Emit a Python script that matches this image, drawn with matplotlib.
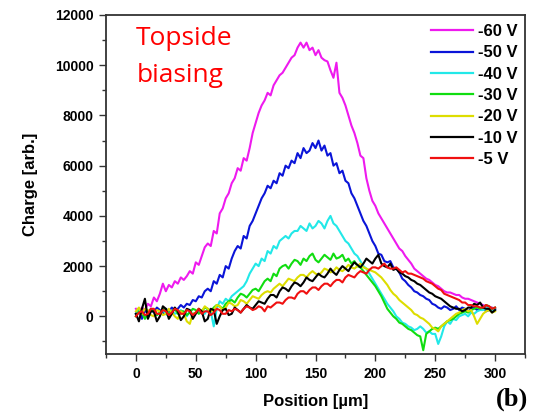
import numpy as np
import matplotlib
matplotlib.use("Agg")
import matplotlib.pyplot as plt
from matplotlib.ticker import MultipleLocator

plt.rcParams['font.family'] = ['Liberation Sans', 'DejaVu Sans']
plt.rcParams['font.weight'] = 'bold'

position = np.arange(0, 300.01, 2.5)

labels = ["-60 V", "-50 V", "-40 V", "-30 V", "-20 V", "-10 V", "-5 V"]
colors = ["#EE1AEE", "#0A14D8", "#22E8E8", "#10DD10", "#DDDD00", "#000000", "#F01010"]

v60 = [300, 150, 350, 250, 500, 400, 750, 600, 900, 1300, 1000, 1250, 1150, 1400, 1300, 1550,
       1450, 1600, 1800, 1700, 2150, 2050, 2400, 2750, 2900, 2800, 3400, 3300, 4100, 4300, 4700,
       4900, 5300, 5500, 5900, 5800, 6300, 6200, 6700, 7300, 7700, 8100, 8400, 8600, 8900, 8800,
       9200, 9400, 9600, 9700, 9900, 10100, 10300, 10400, 10700, 10900, 10700, 10900, 10600,
       10700, 10400, 10600, 10300, 10200, 10150, 9800, 9500, 10100, 8900, 8700, 8400, 8000, 7600,
       7300, 6900, 6400, 6300, 5500, 5000, 4600, 4400, 4100, 3900, 3700, 3500, 3300, 3100, 2900,
       2700, 2600, 2400, 2250, 2100, 1900, 1800, 1700, 1600, 1500, 1450, 1350, 1250, 1200, 1100,
       1000, 950, 950, 900, 850, 850, 750, 700, 700, 650, 600, 550, 500, 450, 400, 380, 350, 300]
v50 = [100, 300, -100, 250, 100, 300, 150, 350, 250, 100, 300, 200, 350, 250, 300, 450, 350,
       500, 450, 650, 600, 800, 750, 1000, 1100, 1000, 1400, 1300, 1650, 1550, 2000, 1900, 2300,
       2600, 2800, 2700, 3200, 3100, 3600, 3800, 4100, 4400, 4700, 4900, 5200, 5100, 5400, 5300,
       5700, 5600, 6000, 5900, 6200, 6100, 6500, 6300, 6700, 6500, 6600, 6900, 6700, 7000, 6600,
       6800, 6400, 6500, 6000, 6100, 5700, 5800, 5400, 5300, 4900, 4700, 4400, 4100, 3800, 3600,
       3300, 3000, 2800, 2500, 2450, 2200, 2150, 2200, 1950, 1900, 1750, 1500, 1400, 1250, 1150,
       1000, 950, 850, 800, 700, 650, 500, 450, 350, 300, 400, 350, 250, 300, 400, 250, 350, 300,
       200, 300, 350, 250, 300, 350, 200, 250, 300, 250]
v40 = [100, 250, 150, 0, 50, 200, 200, 50, 150, 250, 100, 0, 200, 100, 150, 250, 100, 0, 200,
       100, 150, 250, 250, 100, 300, 200, -400, 300, 600, 500, 700, 600, 800, 900, 1000, 1100,
       1200, 1400, 1700, 1900, 2100, 2000, 2300, 2200, 2600, 2500, 2800, 2700, 3000, 3100, 3200,
       3100, 3300, 3400, 3400, 3600, 3500, 3400, 3700, 3500, 3600, 3800, 3700, 3500, 3800, 4000,
       3700, 3600, 3400, 3200, 3000, 2900, 2700, 2500, 2400, 2200, 2000, 1900, 1700, 1500, 1300,
       1100, 900, 700, 500, 350, 200, 0, -100, -250, -300, -400, -450, -550, -500, -400, -500,
       -650, -600, -700, -700, -1100, -800, -400, -200, -300, -100, -150, 0, 50, 100, 0, 150,
       100, 200, 250, 250, 300, 350, 250, 300]
v30 = [0, 200, 150, -100, 100, 250, 200, 50, 150, 300, 250, 100, 200, 300, 100, 200, 200, 50,
       150, 300, 250, 100, 200, 350, 300, 200, 350, 450, 400, 300, 500, 600, 650, 550, 750, 900,
       850, 750, 900, 1050, 1100, 1000, 1200, 1400, 1500, 1400, 1700, 1600, 1900, 2000, 2050,
       1900, 2100, 2250, 2200, 2050, 2300, 2200, 2400, 2500, 2250, 2150, 2300, 2450, 2350, 2250,
       2500, 2300, 2350, 2450, 2200, 2300, 2100, 2200, 2000, 1950, 1800, 1650, 1500, 1350, 1200,
       1000, 800, 550, 300, 150, 0, -100, -250, -300, -400, -500, -550, -650, -750, -800, -1350,
       -700, -600, -500, -450, -500, -400, -300, -200, -150, -100, 0, 100, 150, 200, 150, 250,
       300, 350, 300, 350, 450, 400, 300, 350]
v20 = [200, 350, 100, 300, 250, 50, 0, 250, 200, 50, 100, 300, 150, 0, -100, 200, 100, -200,
       -300, 100, 150, 300, 200, 400, 300, 200, 250, 450, 400, 250, 350, 550, 500, 400, 450, 650,
       600, 500, 650, 800, 750, 700, 850, 950, 1000, 950, 1100, 1200, 1300, 1200, 1350, 1500,
       1450, 1400, 1550, 1650, 1650, 1550, 1700, 1800, 1700, 1650, 1750, 1900, 1850, 1750, 1800,
       1950, 1850, 1800, 1900, 2050, 1950, 1900, 2000, 2100, 1950, 1900, 1850, 1800, 1750, 1650,
       1550, 1400, 1250, 1050, 900, 800, 650, 550, 450, 350, 250, 100, 50, -50, -100, -200, -300,
       -450, -500, -600, -400, -300, -200, -100, 0, 100, 150, 250, 300, 200, 250, 0, -300, -100,
       100, 200, 250, 150, 200]
v10 = [100, -200, 300, 700, -100, 200, 200, -200, 0, 400, 300, -100, 100, 350, 200, -150, 0,
       300, 250, -100, 100, 300, 200, -200, -100, 300, 250, -300, 0, 250, 300, 50, 100, 350, 250,
       150, 300, 450, 350, 300, 450, 600, 550, 500, 700, 850, 850, 750, 1000, 1150, 1100, 1000,
       1200, 1350, 1300, 1200, 1350, 1550, 1450, 1400, 1550, 1700, 1600, 1550, 1700, 1900, 1750,
       1650, 1850, 2000, 1900, 1800, 2000, 2150, 2050, 1950, 2100, 2300, 2200, 2100, 2300, 2450,
       2100, 2000, 1950, 2100, 1850, 1900, 1750, 1700, 1600, 1550, 1450, 1400, 1300, 1250, 1150,
       1050, 950, 900, 800, 750, 700, 600, 500, 400, 350, 300, 300, 200, 250, 350, 350, 500, 450,
       550, 350, 300, 300, 150, 250]
v5 = [0, 150, 200, 50, 100, 300, 300, 100, 100, 250, 200, 50, 150, 300, 250, 100, 100, 250, 200,
      50, 150, 300, 100, 200, 200, 50, 150, 300, 250, 100, 100, 250, 200, 300, 250, 150, 300, 400,
      350, 250, 300, 400, 350, 200, 400, 350, 450, 550, 550, 500, 650, 750, 750, 700, 900, 1000,
      1000, 900, 1050, 1150, 1150, 1050, 1200, 1300, 1300, 1200, 1350, 1450, 1450, 1350, 1550,
      1650, 1600, 1550, 1700, 1800, 1750, 1700, 1850, 1950, 1950, 1900, 2000, 2100, 1950, 1900,
      1900, 1950, 1850, 1750, 1800, 1700, 1700, 1650, 1600, 1550, 1500, 1400, 1350, 1300, 1200,
      1100, 1050, 900, 850, 800, 750, 700, 650, 550, 550, 450, 450, 400, 400, 350, 350, 450, 400,
      300, 350]

series = [v60, v50, v40, v30, v20, v10, v5]

W, H = 533, 412
fig = plt.figure(figsize=(W / 100, H / 100), dpi=100)
ax = fig.add_axes([106 / W, 1 - 354 / H, (525 - 106) / W, (354 - 15) / H])

for vals, lab, col in zip(series, labels, colors):
    ax.plot(position, vals, color=col, lw=1.5, label=lab)

ax.set_xlim(-25, 325)
ax.set_ylim(-1500, 12000)
ax.xaxis.set_minor_locator(MultipleLocator(25))
ax.yaxis.set_major_locator(MultipleLocator(2000))
ax.yaxis.set_minor_locator(MultipleLocator(1000))
ax.set_xticks([0, 50, 100, 150, 200, 250, 300])
ax.tick_params(which='both', direction='out', top=False, right=False, width=1.0,
               labelsize=10, color='#333333')
ax.tick_params(which='major', length=5, pad=4)
ax.tick_params(which='minor', length=3)
for lbl in ax.get_xticklabels() + ax.get_yticklabels():
    lbl.set_fontweight('bold')
for s in ax.spines.values():
    s.set_linewidth(1.3)
    s.set_color('#333333')

ax.set_xlabel("Position [µm]", fontsize=12, fontweight='bold', labelpad=10)
ax.set_ylabel("Charge [arb.]", fontsize=12, fontweight='bold', labelpad=12)

leg = ax.legend(loc='upper left', bbox_to_anchor=((431 - 106) / 419, (354 - 24) / 339),
                frameon=False, fontsize=12, handlelength=2.5, handletextpad=0.3,
                labelspacing=0.38, borderpad=0, borderaxespad=0)
for t in leg.get_texts():
    t.set_fontweight('bold')
for l in leg.get_lines():
    l.set_linewidth(1.6)

fig.text(136 / W, 1 - 45 / H, "Topside", color='#FF0000', fontsize=19,
         family='Open Sans', fontweight='normal', va='baseline', ha='left')
fig.text(137 / W, 1 - 82 / H, "biasing", color='#FF0000', fontsize=19,
         family='Open Sans', fontweight='normal', va='baseline', ha='left')
fig.text(528 / W, 1 - 406 / H, "(b)", fontsize=19, family='Liberation Serif',
         fontweight='bold', va='baseline', ha='right')

fig.savefig("out.png", dpi=100)
